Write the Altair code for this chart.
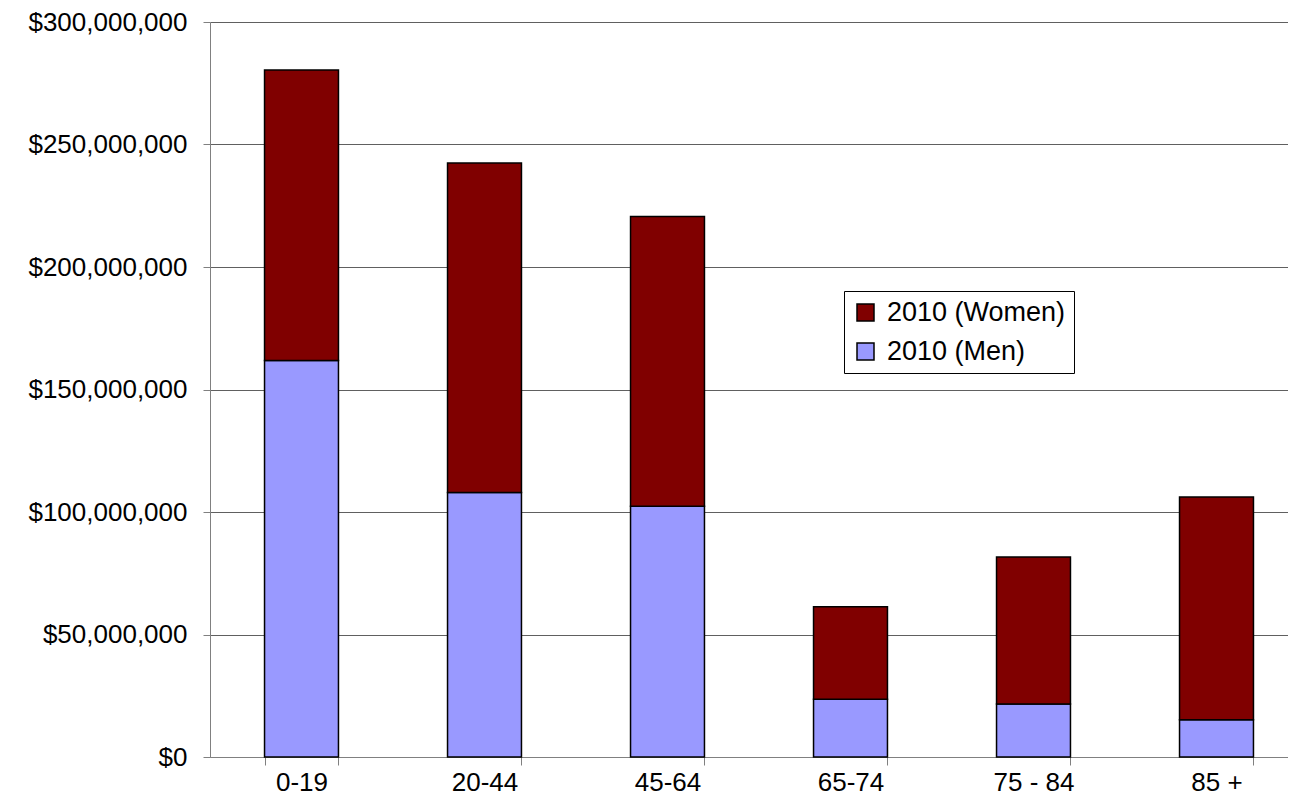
import altair as alt
import pandas as pd

age_groups = ["0-19", "20-44", "45-64", "65-74", "75 - 84", "85 +"]
men_values = [161.8e6, 108.0e6, 102.3e6, 23.6e6, 21.6e6, 15.2e6]
women_totals = [280.4e6, 242.4e6, 220.6e6, 61.3e6, 81.6e6, 106.1e6]
women_values = [t - m for t, m in zip(women_totals, men_values)]
series_names = ["2010 (Women)", "2010 (Men)"]
series_colors = ["#800000", "#9999FF"]
y_ticks = [0, 50e6, 100e6, 150e6, 200e6, 250e6, 300e6]

rows = []
for g, m, w in zip(age_groups, men_values, women_values):
    rows.append({"Age": g, "Series": "2010 (Men)", "Value": m, "Order": 0})
    rows.append({"Age": g, "Series": "2010 (Women)", "Value": w, "Order": 1})
df = pd.DataFrame(rows)

FONT = "Liberation Sans"

chart = alt.Chart(df).mark_bar(stroke="black", strokeWidth=1.5).encode(
    x=alt.X("Age:N", sort=age_groups, title=None,
            scale=alt.Scale(paddingInner=0.596, paddingOuter=0.298, range=[0, 1098]),
            axis=alt.Axis(labelAngle=0, labelFontSize=26, labelFont=FONT, labelColor="black",
                          tickBand="extent", tickSize=8, tickColor="#808080",
                          domainColor="#808080", labelPadding=4, grid=False)),
    y=alt.Y("Value:Q", stack="zero", title=None,
            scale=alt.Scale(domain=[0, 300e6], nice=False),
            axis=alt.Axis(values=y_ticks, format="$,.0f", labelFontSize=26, labelFont=FONT,
                          labelColor="black", tickSize=7, tickColor="#808080",
                          domainColor="#808080", labelPadding=16,
                          grid=True, gridColor="#606060", gridWidth=1)),
    color=alt.Color("Series:N", scale=alt.Scale(domain=series_names, range=series_colors),
                    legend=alt.Legend(title=None, orient="none", legendX=634, legendY=269,
                                      labelFontSize=27, labelFont=FONT, labelColor="black",
                                      labelLimit=500,
                                      symbolType="square", symbolSize=289,
                                      symbolStrokeColor="black", symbolStrokeWidth=1.5,
                                      strokeColor="black", padding=8, rowPadding=11,
                                      labelOffset=8, fillColor="white")),
    order=alt.Order("Order:Q"),
).properties(
    width=1078, height=735,
    autosize=alt.AutoSizeParams(type="none"),
    padding={"left": 202, "top": 14, "right": 0, "bottom": 40},
).configure_view(stroke=None)

chart.save("out.html", embed_options={"renderer": "svg", "actions": False})
